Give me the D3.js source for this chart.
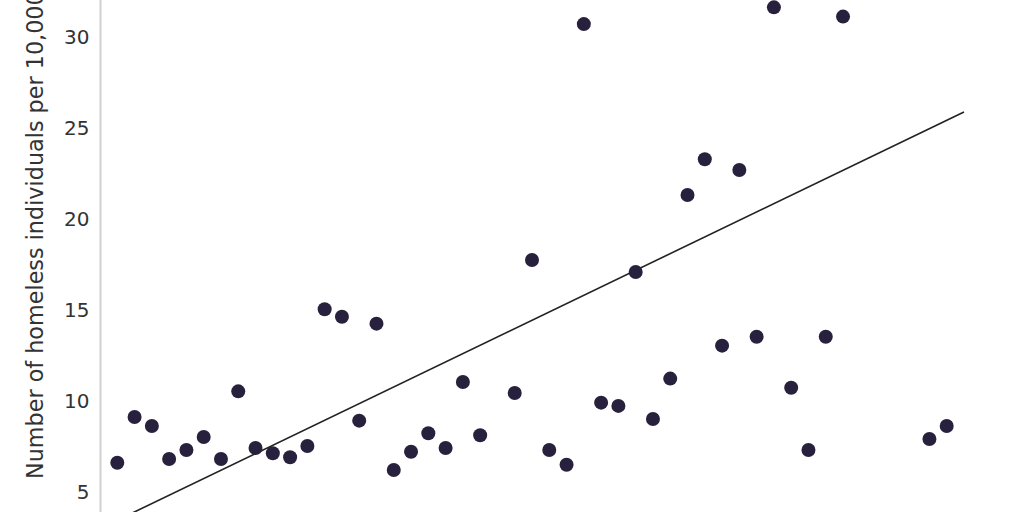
<!DOCTYPE html>
<html>
<head>
<meta charset="utf-8">
<script src="https://cdn.jsdelivr.net/npm/d3@7"></script>
<style>
  html, body { margin: 0; padding: 0; background: #fff; }
  svg { display: block; }
</style>
</head>
<body>
<svg id="chart" width="1024" height="512"></svg>
<script>
// Rank of each place along the x axis (points above the visible area are not shown)
const rank = [0,1,2,3,4,5,6,7,8,9,10,11,12,13,14,15,16,17,18,19,20,21,
              23,24,25,26,27,28,29,30,31,32,33,34,35,36,37,38,39,40,41,42,47,48];
// Number of homeless individuals per 10,000 residents
const rate = [6.61,9.12,8.63,6.81,7.31,8.02,6.81,10.53,7.42,7.13,6.91,7.53,15.04,14.63,8.92,14.25,6.21,7.21,8.23,7.42,11.04,8.12,
              10.44,17.75,7.31,6.50,30.71,9.91,9.73,17.09,9.01,11.23,21.32,23.28,13.04,22.69,13.53,31.63,10.73,7.31,13.53,31.12,7.91,8.63];
// Trend line endpoints (rank, rate)
const trendRank = [0, 49];
const trendRate = [3.45, 25.88];
const yTicks = [5, 10, 15, 20, 25, 30];
const yLabel = "Number of homeless individuals per 10,000 residents";

const svg = d3.select("#chart");
const x = d3.scaleLinear().domain([0, 48]).range([117.3, 946.7]);
const y = d3.scaleLinear().domain([5, 30]).range([492, 37]);

// y axis
const yAxis = d3.axisLeft(y).tickValues(yTicks).tickSize(0).tickPadding(12);
const gy = svg.append("g").attr("transform", "translate(100.5,0)").call(yAxis);
gy.select(".domain").remove();
gy.selectAll("text")
  .attr("font-family", "'DejaVu Sans', sans-serif")
  .attr("font-size", 20)
  .attr("fill", "#333")
  .attr("x", -11);
svg.append("line")
  .attr("x1", 100.5).attr("x2", 100.5)
  .attr("y1", 0).attr("y2", 512)
  .attr("stroke", "#d0d0d0").attr("stroke-width", 2);

svg.append("text")
  .attr("transform", "translate(43,479) rotate(-90)")
  .attr("font-family", "'DejaVu Sans', sans-serif")
  .attr("font-size", 22.3)
  .attr("fill", "#333")
  .attr("text-anchor", "start")
  .text(yLabel);

// trend line
svg.append("line")
  .attr("x1", x(trendRank[0])).attr("y1", y(trendRate[0]))
  .attr("x2", x(trendRank[1])).attr("y2", y(trendRate[1]))
  .attr("stroke", "#222").attr("stroke-width", 1.6);

// points
svg.append("g").selectAll("circle")
  .data(rank.map((r, i) => ({r, v: rate[i]})))
  .join("circle")
  .attr("cx", d => x(d.r))
  .attr("cy", d => y(d.v))
  .attr("r", 7)
  .attr("fill", "#27213d");
</script>
</body>
</html>
